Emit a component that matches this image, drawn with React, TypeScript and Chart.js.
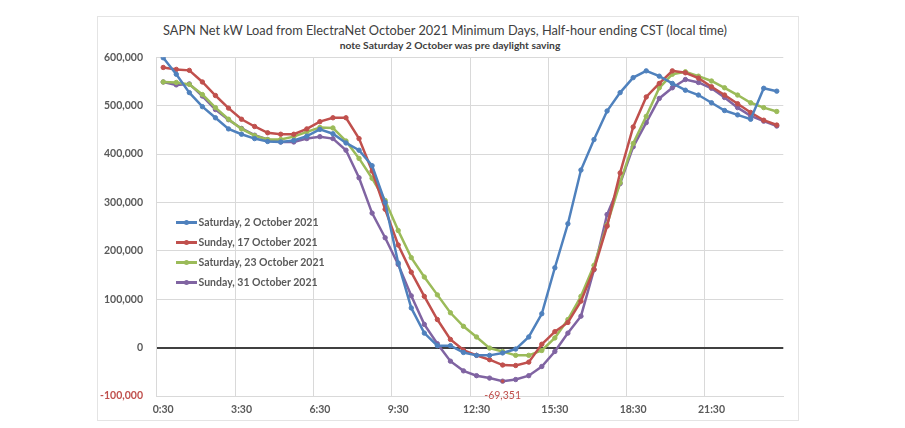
import { useEffect, useRef } from "react";
import { Chart, registerables } from "chart.js";

Chart.register(...registerables);

// half-hour ending, CST (local time)
const timeLabels = [
  "0:30", "1:00", "1:30", "2:00", "2:30", "3:00", "3:30", "4:00",
  "4:30", "5:00", "5:30", "6:00", "6:30", "7:00", "7:30", "8:00",
  "8:30", "9:00", "9:30", "10:00", "10:30", "11:00", "11:30", "12:00",
  "12:30", "13:00", "13:30", "14:00", "14:30", "15:00", "15:30", "16:00",
  "16:30", "17:00", "17:30", "18:00", "18:30", "19:00", "19:30", "20:00",
  "20:30", "21:00", "21:30", "22:00", "22:30", "23:00", "23:30", "24:00",
];

// net kW load
const sat2 = [
  599000, 565000, 527000, 498000, 475000, 452000, 441000, 432000, 426000, 425000,
  428000, 437000, 451000, 442000, 423000, 408000, 376000, 300000, 175000, 82000,
  30000, 4000, 4000, -10000, -16000, -16000, -11000, -3000, 22000, 70000,
  165000, 256000, 367000, 430000, 489000, 527000, 558000, 572000, 561000, 546000,
  532000, 522000, 506000, 490000, 481000, 472000, 536000, 530000,
];
const sun17 = [
  579000, 575000, 573000, 549000, 521000, 495000, 472000, 457000, 444000, 441000,
  441000, 452000, 467000, 475000, 475000, 432000, 365000, 286000, 212000, 156000,
  106000, 58000, 17000, -5000, -16000, -25000, -36000, -37000, -30000, 7000,
  33000, 52000, 96000, 162000, 251000, 361000, 456000, 518000, 546000, 572000,
  568000, 557000, 539000, 522000, 504000, 486000, 470000, 460000,
];
const sat23 = [
  549000, 548000, 544000, 523000, 496000, 472000, 452000, 438000, 430000, 430000,
  436000, 446000, 455000, 454000, 427000, 391000, 350000, 304000, 242000, 186000,
  146000, 109000, 72000, 44000, 22000, -1000, -8000, -16000, -16000, -6000,
  20000, 58000, 106000, 170000, 254000, 341000, 422000, 478000, 537000, 565000,
  570000, 561000, 551000, 537000, 522000, 506000, 496000, 488000,
];
const sun31 = [
  549000, 543000, 545000, 520000, 492000, 471000, 453000, 439000, 430000, 425000,
  425000, 432000, 436000, 432000, 408000, 351000, 278000, 227000, 172000, 107000,
  48000, 8000, -28000, -48000, -58000, -63000, -69351, -66000, -58000, -39000,
  -8000, 30000, 65000, 161000, 275000, 339000, 415000, 465000, 515000, 537000,
  554000, 548000, 536000, 517000, 496000, 479000, 468000, 458000,
];

const seriesNames = [
  "Saturday, 2 October 2021",
  "Sunday, 17 October 2021",
  "Saturday, 23 October 2021",
  "Sunday, 31 October 2021",
];
const seriesColors = ["#4F81BD", "#C0504D", "#9BBB59", "#8064A2"];
const seriesData = [sat2, sun17, sat23, sun31];

const titleText =
  "SAPN Net kW Load from ElectraNet October 2021 Minimum Days, Half-hour ending CST (local time)";
const subtitleText = "note Saturday 2 October was pre daylight saving";

const FONT = "Lato, 'Open Sans', sans-serif";
const TEXT = "#595959";
const NEG_RED = "#C0504D";

const minIdx = sun31.indexOf(Math.min(...sun31));

// red value label under the lowest point of the 31 October series
const minLabelPlugin = {
  id: "minLabel",
  afterDatasetsDraw(chart: Chart) {
    const pt = chart.getDatasetMeta(3).data[minIdx];
    if (!pt) return;
    const ctx = chart.ctx;
    ctx.save();
    ctx.font = `10.5px ${FONT}`;
    ctx.fillStyle = NEG_RED;
    ctx.textAlign = "center";
    ctx.textBaseline = "middle";
    ctx.fillText(sun31[minIdx].toLocaleString("en-US"), pt.x, pt.y + 14);
    ctx.restore();
  },
};

function LoadChart() {
  const chartRef = useRef<HTMLCanvasElement>(null);
  const chartInstance = useRef<Chart | null>(null);

  useEffect(() => {
    if (!chartRef.current) return;
    if (chartInstance.current) chartInstance.current.destroy();
    const ctx = chartRef.current.getContext("2d");
    if (!ctx) return;

    chartInstance.current = new Chart(ctx, {
      type: "line",
      data: {
        labels: timeLabels,
        datasets: seriesData.map((d, k) => ({
          label: seriesNames[k],
          data: d,
          borderColor: seriesColors[k],
          backgroundColor: seriesColors[k],
          pointBackgroundColor:
            k === 3
              ? sun31.map((_, i) => (i === minIdx ? NEG_RED : seriesColors[k]))
              : seriesColors[k],
          pointBorderColor: seriesColors[k],
          borderWidth: 2.5,
          pointRadius: 2.2,
          pointBorderWidth: 1,
          tension: 0,
        })),
      },
      options: {
        responsive: true,
        maintainAspectRatio: false,
        animation: false,
        layout: { padding: { left: 0, right: 15.7, top: 41.3, bottom: 0 } },
        scales: {
          x: {
            offset: true,
            grid: {
              offset: true,
              drawTicks: false,
              z: -1,
              color: (c: any) => (c.index % 6 === 0 ? "#d9d9d9" : "rgba(0,0,0,0)"),
            },
            border: { color: "#d9d9d9" },
            ticks: {
              autoSkip: false,
              maxRotation: 0,
              padding: 7,
              color: TEXT,
              font: { family: FONT, size: 10.5, weight: "bold" },
              callback: (_v: any, i: number) => (i % 6 === 0 ? timeLabels[i] : ""),
            },
            afterFit: (s: any) => {
              s.height = 25;
            },
          },
          y: {
            min: -100000,
            max: 600000,
            grid: {
              drawTicks: false,
              color: (c: any) => (c.tick && c.tick.value === 0 ? "#404040" : "#d9d9d9"),
              lineWidth: (c: any) => (c.tick && c.tick.value === 0 ? 2 : 1),
            },
            border: { color: "#d9d9d9" },
            ticks: {
              stepSize: 100000,
              padding: 13.7,
              color: (c: any) => (c.tick && c.tick.value < 0 ? NEG_RED : TEXT),
              font: { family: FONT, size: 10.5, weight: "bold" },
              callback: (v: any) => Number(v).toLocaleString("en-US"),
            },
            afterFit: (s: any) => {
              s.width = 59.7;
            },
          },
        },
        plugins: {
          legend: { display: false },
          tooltip: { enabled: false },
        },
      },
      plugins: [minLabelPlugin],
    });

    return () => {
      if (chartInstance.current) {
        chartInstance.current.destroy();
        chartInstance.current = null;
      }
    };
  }, []);

  return (
    <div style={{ position: "absolute", left: 97, top: 16, width: 702, height: 405 }}>
      <canvas ref={chartRef} />
    </div>
  );
}

function Legend() {
  return (
    <div style={{ position: "absolute", left: 176, top: 212, fontFamily: FONT }}>
      {seriesNames.map((name, k) => (
        <div key={name} style={{ display: "flex", alignItems: "center", height: 20 }}>
          <div style={{ position: "relative", width: 21, height: 10, marginRight: 1.5 }}>
            <div
              style={{
                position: "absolute",
                left: 0,
                top: 4,
                width: 21,
                height: 2.5,
                background: seriesColors[k],
              }}
            />
            <div
              style={{
                position: "absolute",
                left: 8,
                top: 2.5,
                width: 5,
                height: 5,
                borderRadius: "50%",
                background: seriesColors[k],
              }}
            />
          </div>
          <span style={{ fontSize: 10.5, fontWeight: "bold", color: TEXT, whiteSpace: "nowrap" }}>
            {name}
          </span>
        </div>
      ))}
    </div>
  );
}

export default function App() {
  return (
    <div
      style={{
        position: "fixed",
        left: 0,
        top: 0,
        width: 905,
        height: 428,
        background: "#ffffff",
        overflow: "hidden",
        fontFamily: FONT,
      }}
    >
      <div
        style={{
          position: "absolute",
          left: 97,
          top: 16,
          width: 700,
          height: 403,
          border: "1px solid #e4e4e4",
        }}
      />
      <div
        style={{
          position: "absolute",
          left: 97,
          width: 696,
          top: 22,
          lineHeight: "16px",
          fontSize: 12.8,
          color: "#404040",
          textAlign: "center",
          whiteSpace: "nowrap",
        }}
      >
        {titleText}
      </div>
      <div
        style={{
          position: "absolute",
          left: 97,
          width: 706,
          top: 38.5,
          lineHeight: "13px",
          fontSize: 10.3,
          fontWeight: "bold",
          color: "#404040",
          textAlign: "center",
          whiteSpace: "nowrap",
        }}
      >
        {subtitleText}
      </div>
      <LoadChart />
      <Legend />
    </div>
  );
}
